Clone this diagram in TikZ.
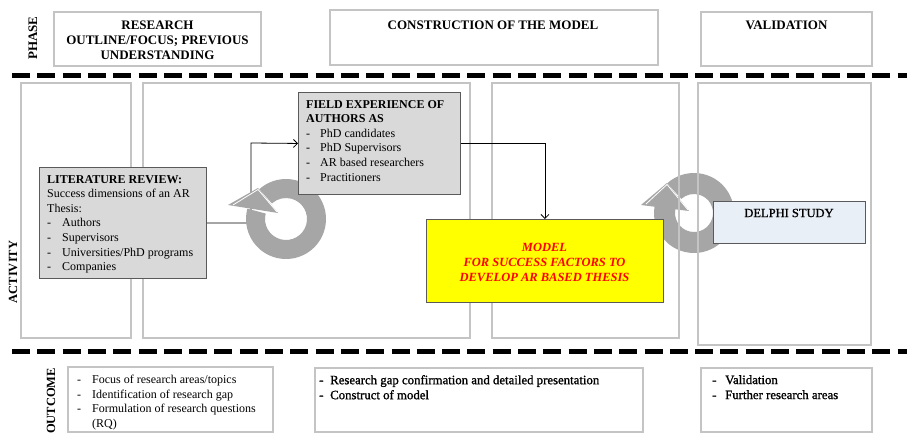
\documentclass[tikz,border=0pt]{standalone}
\usepackage{fontspec}
\setmainfont{Liberation Serif}
\usetikzlibrary{arrows.meta}
\definecolor{boxline}{HTML}{C4C4C4}
\definecolor{darkline}{HTML}{5A5A5A}
\definecolor{fillgray}{HTML}{D9D9D9}
\definecolor{ringgray}{HTML}{A6A6A6}
\definecolor{delphiblue}{HTML}{E9EFF7}
\definecolor{modelyellow}{HTML}{FFFF00}
\definecolor{modelred}{HTML}{FF0000}
\newcommand\itm[2]{\makebox[#1][l]{-}#2}
\begin{document}
\begin{tikzpicture}[x=1pt,y=-1pt,
  frame/.style={draw=boxline,line width=1.2pt},
  inbox/.style={draw=darkline,line width=0.9pt,inner sep=0pt,anchor=north west},
  sepline/.style={line width=5pt,dash pattern=on 18pt off 7.3pt},
  conn/.style={line width=0.8pt,-{Straight Barb[length=4pt,width=8pt]}},
  txt/.style={inner sep=0pt,align=left,anchor=north west,font=\fontsize{12}{14.6}\selectfont},
  heavytxt/.style={txt,font=\fontsize{12.8}{15}\selectfont\addfontfeature{FakeBold=1.2}},
  headtxt/.style={font=\fontsize{13}{15}\selectfont\bfseries,align=center,inner sep=0pt,anchor=north},
  side/.style={font=\fontsize{12.5}{15}\selectfont\bfseries,rotate=90,inner sep=0pt},
  ring/.style={fill=ringgray}]

\useasboundingbox (0,0) rectangle (907,436);
\fill[white] (0,0) rectangle (907,436);

% ---------- side labels ----------
\node[side,font=\fontsize{13}{15}\selectfont\bfseries] (phase) at (33,38) {PHASE};
\node[side] (activity) at (13,272) {ACTIVITY};
\node[side] (outcome) at (51,401) {OUTCOME};

% ---------- phase row ----------
\draw[frame] (54,12) rectangle (261,66);
\draw[frame] (330,10) rectangle (658,65);
\draw[frame] (701,12) rectangle (872,66);
\node[headtxt] (ph1) at (157.5,21) {RESEARCH\\OUTLINE/FOCUS; PREVIOUS\\UNDERSTANDING};
\node[headtxt] (ph2) at (493,21) {CONSTRUCTION OF THE MODEL};
\node[headtxt] (ph3) at (786.5,21) {VALIDATION};

% ---------- separators ----------
\draw[sepline] (12,75) -- (907,75);
\draw[sepline] (12,351.5) -- (907,351.5);

% ---------- connectors (behind the cycle arrow) ----------
\node[inbox,fill=fillgray,minimum width=167pt,minimum height=111pt] (lit) at (39,167) {};
\node[inbox,fill=fillgray,minimum width=162pt,minimum height=102pt] (field) at (298,92) {};
\coordinate (turn) at (251,143);
\draw[conn] (lit.east) -| (turn) -- (field.west);

% ---------- cycle arrows ----------
\begin{scope}[shift={(286,219)},y=1pt]
  \fill[ring] (132:40) arc[start angle=132,end angle=-195,radius=40]
     -- (-195:21) arc[start angle=-195,end angle=132,radius=21] -- cycle;
  \fill[ring] (-58,14) -- (-28,31) -- (-8,6) -- cycle;
  \draw[white,line width=0.8pt,line join=round] (-53,14) -- (-28,29.5) -- (-9,7);
\end{scope}
\begin{scope}[shift={(694,213)},y=1pt]
  \fill[ring] (132:40) arc[start angle=132,end angle=-195,radius=40]
     -- (-195:19) arc[start angle=-195,end angle=132,radius=19] -- cycle;
  \fill[ring] (-53,8) -- (-27,30) -- (-5,2) -- cycle;
  \draw[white,line width=0.8pt,line join=round] (-48,9) -- (-27,28.5) -- (-6,3);
\end{scope}

% ---------- activity row frames ----------
\draw[frame] (21,83) rectangle (131,338);
\draw[frame] (143,83) rectangle (470,338);
\draw[frame] (492,83) rectangle (679,338);
\draw[frame] (698,83) rectangle (871,345);

% ---------- activity boxes ----------
\node[inbox,fill=fillgray,minimum width=167pt,minimum height=111pt] (lit2) at (39,167) {};
\node[inbox,fill=fillgray,minimum width=162pt,minimum height=102pt] (field2) at (298,92) {};
\node[txt] (littxt) at (47,175) {\textbf{LITERATURE REVIEW:}\\Success dimensions of an AR\\Thesis:\\\itm{15pt}{Authors}\\\itm{15pt}{Supervisors}\\\itm{15pt}{Universities/PhD programs}\\\itm{15pt}{Companies}};
\node[txt] (fieldtxt) at (306,100) {\textbf{FIELD EXPERIENCE OF}\\\textbf{AUTHORS AS}\\\itm{14pt}{PhD candidates}\\\itm{14pt}{PhD Supervisors}\\\itm{14pt}{AR based researchers}\\\itm{14pt}{Practitioners}};

\node[inbox,fill=modelyellow,minimum width=237pt,minimum height=83pt] (model) at (426,219) {};
\node[font=\fontsize{12.5}{15}\selectfont\bfseries\itshape,text=modelred,align=center,inner sep=0pt] (modeltxt) at (544.5,262) {MODEL\\FOR SUCCESS FACTORS TO\\DEVELOP AR BASED THESIS};
\draw[conn] (field.east) -| (model.north);

\node[inbox,fill=delphiblue,minimum width=152pt,minimum height=42pt] (delphi) at (713,201) {};
\node[font=\fontsize{12.5}{15}\selectfont\addfontfeature{FakeBold=1},inner sep=0pt] (delphitxt) at (789,213) {DELPHI STUDY};

% ---------- outcome row ----------
\draw[frame] (68,367) rectangle (273,432);
\draw[frame] (315,368) rectangle (643,432);
\draw[frame] (701,368) rectangle (872,432);
\node[txt] (out1) at (77,375) {\itm{15pt}{Focus of research areas/topics}\\\itm{15pt}{Identification of research gap}\\\itm{15pt}{Formulation of research questions}\\\hspace*{15pt}(RQ)};
\node[heavytxt] (out2) at (319,375) {\itm{11pt}{Research gap confirmation and detailed presentation}\\\itm{11pt}{Construct of model}};
\node[heavytxt] (out3) at (712,375) {\itm{13pt}{Validation}\\\itm{13pt}{Further research areas}};
\end{tikzpicture}
\end{document}
